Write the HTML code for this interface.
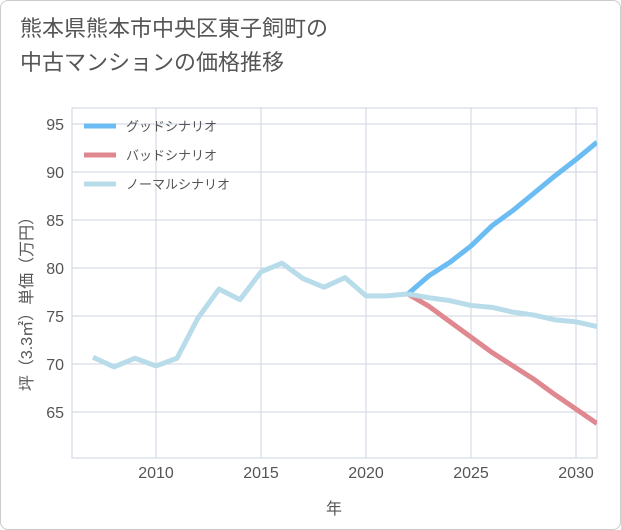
<!DOCTYPE html>
<html><head><meta charset="utf-8"><style>
body{margin:0;background:#fff;}
#card{position:absolute;left:0;top:0;width:619px;height:528px;border:1px solid #ccc;border-radius:8px;background:#fff;}
#title{position:absolute;left:20px;top:12px;font:22px "Liberation Sans","Noto Sans CJK JP",sans-serif;color:#555;line-height:34px;}
svg{position:absolute;left:0;top:0;}
text{font-family:"Liberation Sans","Noto Sans CJK JP",sans-serif;}
</style></head><body>
<div id="card"></div>
<div id="title">熊本県熊本市中央区東子飼町の<br>中古マンションの価格推移</div>
<svg id="chart" width="621" height="530"></svg>
<script>
const histYears=[2007,2008,2009,2010,2011,2012,2013,2014,2015,2016,2017,2018,2019,2020,2021,2022];
const histValues=[70.7,69.7,70.6,69.8,70.6,74.8,77.8,76.7,79.6,80.5,78.9,78.0,79.0,77.1,77.1,77.3];
const futYears=[2022,2023,2024,2025,2026,2027,2028,2029,2030,2031];
const goodValues=[77.3,79.2,80.6,82.3,84.4,86.0,87.8,89.6,91.3,93.1];
const badValues=[77.3,76.0,74.4,72.8,71.2,69.8,68.4,66.8,65.3,63.8];
const normalValues=[77.3,76.9,76.6,76.1,75.9,75.4,75.1,74.6,74.4,73.9];
const xTicks=[2010,2015,2020,2025,2030];
const yTicks=[65,70,75,80,85,90,95];
const ns="http://www.w3.org/2000/svg";
const svg=document.getElementById('chart');
const L=72,R=597,T=108,B=458;
const x=v=>156+(v-2010)*21;
const y=v=>364-(v-70)*9.6;
function mk(t,a){const e=document.createElementNS(ns,t);for(const k in a)e.setAttribute(k,a[k]);svg.appendChild(e);return e;}
let e=mk('rect',{x:L,y:T,width:R-L,height:B-T,fill:'none',stroke:'#ccd6e0'});


for(const t of xTicks){
 e=mk('line',{x1:x(t),x2:x(t),y1:T,y2:B,stroke:'#ccd6e0'});
 
 
 e=mk('text',{x:x(t),y:478,'text-anchor':'middle','font-size':16,fill:'#555'});e.textContent=t;
 
 
}
for(const t of yTicks){
 e=mk('line',{x1:L,x2:R,y1:y(t),y2:y(t),stroke:'#ccd6e0'});
 
 
 e=mk('text',{x:64,y:y(t)+6,'text-anchor':'end','font-size':16,fill:'#555'});e.textContent=t;
 
 
}
e=mk('text',{x:334,y:514,'text-anchor':'middle','font-size':16,fill:'#555'});e.textContent='年';


e=mk('text',{x:0,y:0,'text-anchor':'middle','font-size':16,fill:'#555',transform:'translate(32,300) rotate(-90)'});e.textContent='坪（3.3㎡）単価（万円）';


const clip=mk('clipPath',{id:'c'});const cr=document.createElementNS(ns,'rect');
cr.setAttribute('x',L);cr.setAttribute('y',T);cr.setAttribute('width',R-L);cr.setAttribute('height',B-T);clip.appendChild(cr);
function line(xs,vs,col,name){
 const d=xs.map((v,i)=>(i?'L':'M')+x(v)+','+y(vs[i])).join('');
 const p=mk('path',{d,fill:'none',stroke:col,'stroke-width':5,'stroke-linejoin':'round','clip-path':'url(#c)'});
 
 
}
line(futYears,goodValues,'#6bbcf2','good-scenario-line');
line(futYears,badValues,'#e08890','bad-scenario-line');
line(futYears,normalValues,'#b8dcea','normal-scenario-line');
line(histYears,histValues,'#b8dcea','historical-line');
const leg=[['グッドシナリオ','#6bbcf2'],['バッドシナリオ','#e08890'],['ノーマルシナリオ','#b8dcea']];
leg.forEach((l,i)=>{
 const yy=126+i*29;
 e=mk('line',{x1:84,x2:116,y1:yy,y2:yy,stroke:l[1],'stroke-width':5});
 
 
 e=mk('text',{x:126,y:yy+5,'font-size':13,fill:'#555'});e.textContent=l[0];
 
 
});
</script>
</body></html>
